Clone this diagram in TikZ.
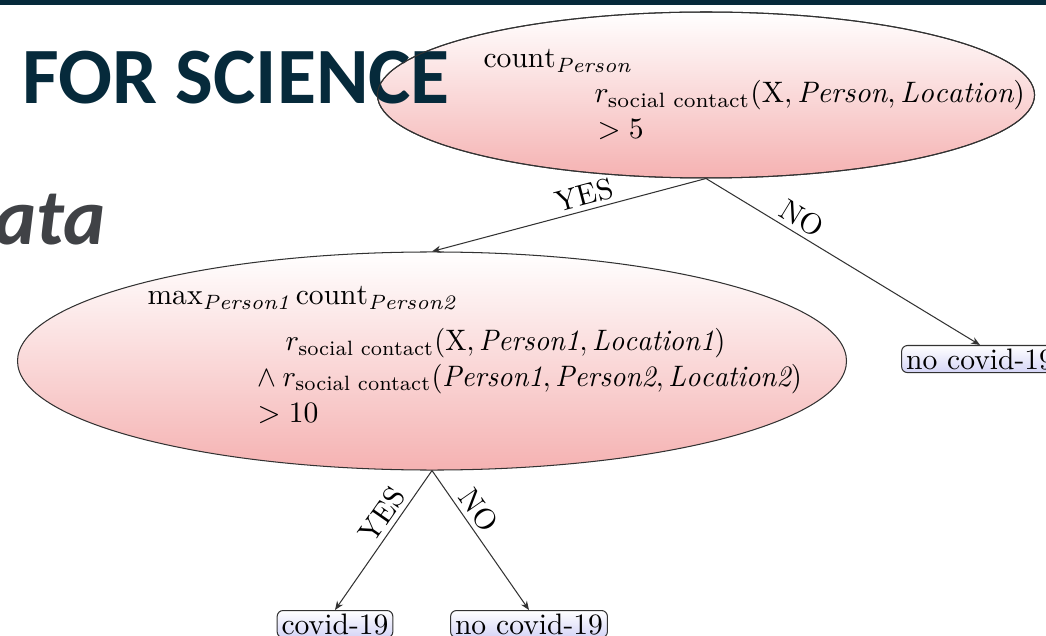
\documentclass[tikz,border=0pt]{standalone}
\usepackage{amsmath}
\usepackage{fontspec}
\newfontfamily\headfont{Carlito}
\usetikzlibrary{shapes.geometric,arrows.meta}
\definecolor{navy}{RGB}{6,42,59}
\definecolor{grayhead}{RGB}{64,66,70}
\definecolor{pinkbot}{RGB}{245,178,178}
\definecolor{lavbot}{RGB}{212,212,246}
\definecolor{edgegray}{RGB}{50,50,50}
\newcommand\rsc{r_{\text{social contact}}}
\begin{document}
\begin{tikzpicture}[x=0.338pt,y=-0.338pt,
  splitnode/.style={ellipse, draw=edgegray, line width=0.35pt, top color=white, bottom color=pinkbot, inner sep=0pt},
  leaf/.style={draw=edgegray, line width=0.35pt, rounded corners=2pt, top color=white, bottom color=lavbot, inner xsep=1.5pt, inner ysep=1pt, anchor=north},
  txt/.style={anchor=base west, inner sep=0pt},
  edge/.style={draw=edgegray, line width=0.35pt, -{Stealth[length=3pt,width=2.4pt]}},
  lbl/.style={sloped, above, inner sep=1.5pt}]
\useasboundingbox (0,0) rectangle (1046,636);
\fill[navy] (0,0) rectangle (1046,5);
% top split
\node[splitnode, minimum width=222.1pt, minimum height=56.1pt] (q1) at (706,95) {};
\node[font=\headfont\bfseries\fontsize{27}{30}\selectfont, text=navy, anchor=base west, inner sep=0pt] (title) at (22,104) {FOR SCIENCE};
\draw[edgegray, line width=0.35pt] (q1.center) ellipse [x radius=111.05pt, y radius=28.05pt];
\node[font=\headfont\bfseries\itshape\fontsize{27}{30}\selectfont, text=grayhead, anchor=base east, inner sep=0pt] (sub) at (106,245) {data};
\node[txt] (t1a) at (483,68) {$\mathrm{count}_{\mathit{Person}}$};
\node[txt] (t1b) at (594,103) {$\rsc(\mathrm{X},\mathit{Person},\mathit{Location})$};
\node[txt] (t1c) at (597,139) {$>5$};
% second split
\node[splitnode, minimum width=280.2pt, minimum height=73.7pt] (q2) at (432,361) {};
\node[txt] (t2a) at (147,305) {$\max_{\mathit{Person1}}\mathrm{count}_{\mathit{Person2}}$};
\node[txt] (t2b) at (285,351) {\scalebox{0.955}[1]{$\rsc(\mathrm{X},\mathit{Person1},\mathit{Location1})$}};
\node[txt] (t2c) at (257,386) {\scalebox{0.955}[1]{$\land\mskip\medmuskip\rsc(\mathit{Person1},\mathit{Person2},\mathit{Location2})$}};
\node[txt] (t2d) at (257,422) {$>10$};
% leaves
\node[leaf] (l1) at (980,345) {no covid-19};
\node[leaf] (l2) at (335,610) {covid-19};
\node[leaf] (l3) at (529,610) {no covid-19};
% edges
\draw[edge] (q1.south) -- node[lbl, pos=.43] {YES} (q2.north);
\draw[edge] (q1.south) -- node[lbl, pos=.32] {NO} (l1.north);
\draw[edge] (q2.south) -- node[lbl, pos=.38] {YES} (l2.north);
\draw[edge] (q2.south) -- node[lbl, pos=.35] {NO} (l3.north);
\end{tikzpicture}
\end{document}
